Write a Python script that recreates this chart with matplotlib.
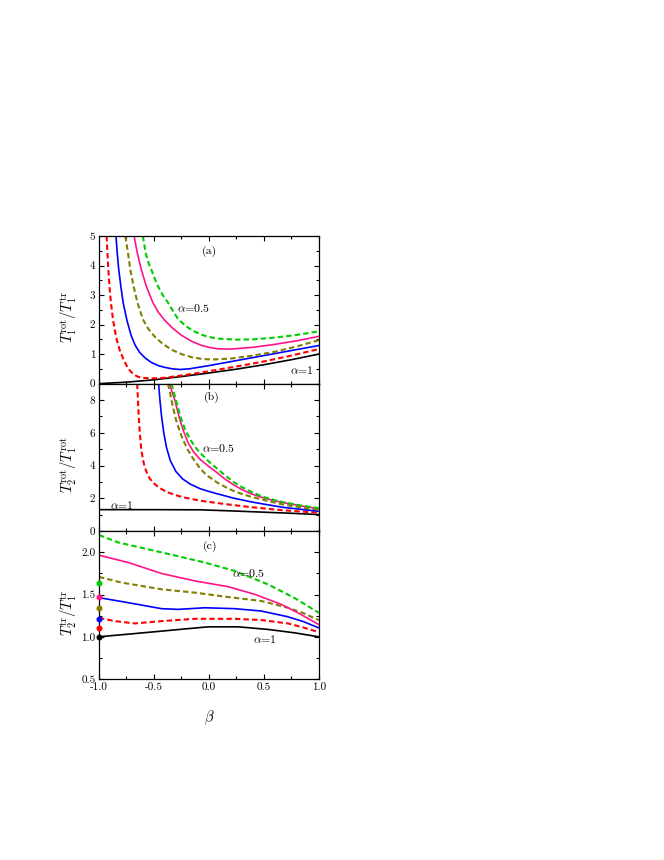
import matplotlib
matplotlib.use("Agg")
import matplotlib.pyplot as plt
from matplotlib.ticker import MultipleLocator, FuncFormatter

plt.rcParams['font.family'] = ['cmr10', 'DejaVu Serif']
plt.rcParams['mathtext.fontset'] = 'cm'
plt.rcParams['axes.unicode_minus'] = False

# ---- panel (a): T1rot / T1tr ----
a_b_black = [-1.0, -0.75, -0.5, -0.25, 0.0, 0.25, 0.5, 0.75, 1.0]
a_v_black = [0.0, 0.05, 0.13, 0.24, 0.36, 0.49, 0.64, 0.81, 1.0]

a_b_red = [-0.93, -0.925, -0.918, -0.91, -0.90, -0.888, -0.873, -0.855, -0.835, -0.81,
           -0.78, -0.75, -0.72, -0.69, -0.65, -0.6, -0.5, -0.4, -0.2, 0.0,
           0.25, 0.5, 0.75, 1.0]
a_v_red = [5.0, 4.6, 4.1, 3.6, 3.1, 2.65, 2.2, 1.8, 1.45, 1.13,
           0.85, 0.62, 0.45, 0.33, 0.24, 0.195, 0.18, 0.2, 0.3, 0.42,
           0.58, 0.75, 0.95, 1.17]

a_b_blue = [-0.845, -0.834, -0.82, -0.80, -0.78, -0.745, -0.706, -0.67, -0.63, -0.58,
            -0.524, -0.46, -0.40, -0.33, -0.26, -0.18, -0.1, 0.0, 0.25, 0.5,
            0.75, 1.0]
a_v_blue = [5.0, 4.44, 3.87, 3.28, 2.75, 2.14, 1.62, 1.3, 1.06, 0.87,
            0.72, 0.61, 0.55, 0.5, 0.48, 0.5, 0.55, 0.61, 0.78, 0.95,
            1.12, 1.29]

a_b_olive = [-0.76, -0.736, -0.715, -0.685, -0.65, -0.60, -0.55, -0.49, -0.42, -0.34,
             -0.25, -0.15, -0.05, 0.05, 0.2, 0.4, 0.6, 0.8, 1.0]
a_v_olive = [5.0, 4.44, 3.87, 3.31, 2.75, 2.18, 1.85, 1.58, 1.35, 1.15,
             1.0, 0.89, 0.83, 0.82, 0.85, 0.95, 1.08, 1.26, 1.47]

a_b_pink = [-0.68, -0.652, -0.615, -0.57, -0.51, -0.46, -0.40, -0.33, -0.25, -0.16,
            -0.07, 0.0, 0.08, 0.2, 0.4, 0.6, 0.8, 1.0]
a_v_pink = [5.0, 4.44, 3.87, 3.31, 2.75, 2.42, 2.14, 1.88, 1.64, 1.44,
            1.3, 1.23, 1.18, 1.17, 1.23, 1.33, 1.45, 1.6]

a_b_green = [-0.6, -0.576, -0.55, -0.524, -0.495, -0.464, -0.42, -0.373, -0.33, -0.282,
             -0.22, -0.15, -0.07, 0.0, 0.1, 0.25, 0.4, 0.6, 0.8, 1.0]
a_v_green = [5.0, 4.44, 4.1, 3.87, 3.58, 3.31, 3.0, 2.75, 2.48, 2.2,
             1.98, 1.8, 1.66, 1.58, 1.52, 1.49, 1.5, 1.56, 1.65, 1.77]

# ---- panel (b): T2rot / T1rot ----
b_b_black = [-1.0, -0.5, -0.08, 0.22, 0.52, 0.75, 1.0]
b_v_black = [1.32, 1.32, 1.31, 1.24, 1.16, 1.1, 1.02]

b_b_red = [-0.652, -0.645, -0.638, -0.628, -0.615, -0.6, -0.585, -0.56, -0.536, -0.5,
           -0.45, -0.385, -0.3, -0.23, -0.08, 0.07, 0.22, 0.373, 0.524, 0.676,
           1.0]
b_v_red = [9.0, 8.0, 7.0, 6.0, 5.0, 4.4, 3.95, 3.5, 3.2, 2.92,
           2.65, 2.4, 2.2, 2.07, 1.87, 1.73, 1.6, 1.48, 1.38, 1.28,
           1.13]

b_b_blue = [-0.457, -0.445, -0.43, -0.41, -0.385, -0.35, -0.30, -0.24, -0.17, -0.08,
            0.0, 0.07, 0.22, 0.373, 0.524, 0.676, 0.85, 1.0]
b_v_blue = [9.0, 8.0, 7.0, 6.0, 5.1, 4.3, 3.65, 3.2, 2.88, 2.6,
            2.43, 2.3, 2.03, 1.81, 1.63, 1.46, 1.33, 1.22]

b_b_olive = [-0.373, -0.355, -0.34, -0.32, -0.3, -0.27, -0.236, -0.19, -0.145, -0.082,
             -0.02, 0.07, 0.15, 0.221, 0.3, 0.373, 0.524, 0.676, 0.85, 1.0]
b_v_olive = [9.0, 8.5, 8.0, 7.4, 6.82, 6.2, 5.6, 4.95, 4.45, 3.85,
             3.42, 3.0, 2.7, 2.47, 2.28, 2.13, 1.87, 1.63, 1.45, 1.32]

b_b_pink = [-0.358, -0.335, -0.309, -0.285, -0.264, -0.23, -0.188, -0.14, -0.082, 0.0,
            0.07, 0.15, 0.221, 0.3, 0.373, 0.45, 0.524, 0.6, 0.676, 0.85,
            1.0]
b_v_pink = [9.0, 8.5, 8.0, 7.35, 6.82, 6.1, 5.4, 4.85, 4.4, 3.95,
            3.6, 3.17, 2.85, 2.55, 2.32, 2.14, 1.99, 1.86, 1.75, 1.54,
            1.38]

b_b_green = [-0.34, -0.32, -0.3, -0.275, -0.25, -0.21, -0.16, -0.12, -0.082, 0.0,
             0.07, 0.15, 0.221, 0.3, 0.373, 0.45, 0.524, 0.6, 0.676, 0.85,
             1.0]
b_v_green = [9.0, 8.5, 8.0, 7.4, 6.82, 6.1, 5.5, 5.1, 4.8, 4.25,
             3.85, 3.4, 3.02, 2.7, 2.45, 2.22, 2.04, 1.9, 1.78, 1.56,
             1.41]

# ---- panel (c): T2tr / T1tr ----
c_b_black = [-1.0, -0.7, -0.43, -0.2, -0.006, 0.267, 0.54, 0.78, 1.0]
c_v_black = [1.0, 1.035, 1.067, 1.095, 1.118, 1.118, 1.087, 1.047, 1.0]

c_b_red = [-1.0, -0.855, -0.673, -0.43, -0.127, 0.236, 0.479, 0.72, 0.86, 1.0]
c_v_red = [1.225, 1.186, 1.158, 1.186, 1.213, 1.213, 1.198, 1.158, 1.11, 1.055]

c_b_blue = [-1.0, -0.733, -0.43, -0.279, -0.036, 0.236, 0.479, 0.72, 0.86, 1.0]
c_v_blue = [1.464, 1.404, 1.333, 1.325, 1.344, 1.333, 1.305, 1.237, 1.18, 1.106]

c_b_olive = [-1.0, -0.794, -0.43, -0.127, 0.176, 0.479, 0.72, 0.86, 1.0]
c_v_olive = [1.71, 1.642, 1.563, 1.523, 1.471, 1.424, 1.344, 1.28, 1.198]

c_b_pink = [-1.0, -0.733, -0.43, -0.127, 0.176, 0.418, 0.66, 0.83, 1.0]
c_v_pink = [1.967, 1.88, 1.75, 1.662, 1.594, 1.503, 1.384, 1.27, 1.146]

c_b_green = [-1.0, -0.824, -0.43, -0.036, 0.236, 0.54, 0.78, 1.0]
c_v_green = [2.206, 2.118, 2.0, 1.88, 1.78, 1.62, 1.46, 1.285]

# limit values at beta = -1 (dots)
c_dot_values = [1.0, 1.10, 1.213, 1.337, 1.475, 1.634]

colors = ['black', '#ff0000', '#0000ff', '#808000', '#ff1488', '#00cc00']
styles = ['-', '--', '-', '--', '-', '--']

panel_a = [(a_b_black, a_v_black), (a_b_red, a_v_red), (a_b_blue, a_v_blue),
           (a_b_olive, a_v_olive), (a_b_pink, a_v_pink), (a_b_green, a_v_green)]
panel_b = [(b_b_black, b_v_black), (b_b_red, b_v_red), (b_b_blue, b_v_blue),
           (b_b_olive, b_v_olive), (b_b_pink, b_v_pink), (b_b_green, b_v_green)]
panel_c = [(c_b_black, c_v_black), (c_b_red, c_v_red), (c_b_blue, c_v_blue),
           (c_b_olive, c_v_olive), (c_b_pink, c_v_pink), (c_b_green, c_v_green)]

fig = plt.figure(figsize=(6.64, 8.6), dpi=100)
gs = fig.add_gridspec(3, 1, left=0.149, right=0.480, top=0.7256, bottom=0.2105, hspace=0)
axes = [fig.add_subplot(gs[i]) for i in range(3)]


def draw(ax, curves):
    for (b, v), c, ls in zip(curves, colors, styles):
        if ls == '--':
            ax.plot(b, v, color=c, lw=1.5, dashes=(2.6, 1.5))
        else:
            ax.plot(b, v, color=c, lw=1.2)


draw(axes[0], panel_a)
draw(axes[1], panel_b)
draw(axes[2], panel_c)
for val, c in zip(c_dot_values, colors):
    axes[2].plot([-1.0], [val], 'o', color=c, ms=3.3, clip_on=False, zorder=5)

axes[0].set_ylim(0, 5)
axes[1].set_ylim(0, 9)
axes[2].set_ylim(0.5, 2.25)
axes[0].yaxis.set_major_locator(MultipleLocator(1))
axes[0].yaxis.set_minor_locator(MultipleLocator(0.5))
axes[1].yaxis.set_major_locator(MultipleLocator(2))
axes[1].yaxis.set_minor_locator(MultipleLocator(1))
axes[2].yaxis.set_major_locator(MultipleLocator(0.5))
axes[2].yaxis.set_minor_locator(MultipleLocator(0.25))
axes[0].yaxis.set_major_formatter(FuncFormatter(lambda v, p: f'{v:.0f}'))
axes[1].yaxis.set_major_formatter(FuncFormatter(lambda v, p: f'{v:.0f}'))
axes[2].yaxis.set_major_formatter(FuncFormatter(lambda v, p: f'{v:.1f}'))

for ax in axes:
    ax.set_xlim(-1, 1)
    ax.xaxis.set_major_locator(MultipleLocator(0.5))
    ax.xaxis.set_minor_locator(MultipleLocator(0.25))
    ax.xaxis.set_major_formatter(FuncFormatter(lambda v, p: f'{v:.1f}'))
    ax.tick_params(which='both', direction='in', top=True, right=True, labelsize=8, width=0.8)
    ax.tick_params(which='major', length=3.5, pad=2.5)
    ax.tick_params(which='minor', length=2.5)
    for s in ax.spines.values():
        s.set_linewidth(0.9)
for ax in axes[:2]:
    ax.tick_params(labelbottom=False)

axes[0].set_ylabel(r'$T_1^{\rm rot}/T_1^{\rm tr}$', fontsize=10.5)
axes[1].set_ylabel(r'$T_2^{\rm rot}/T_1^{\rm rot}$', fontsize=10.5)
axes[2].set_ylabel(r'$T_2^{\rm tr}/T_1^{\rm tr}$', fontsize=10.5)
for ax in axes:
    ax.yaxis.set_label_coords(-0.09, 0.45)
axes[2].set_xlabel(r'$\beta$', fontsize=10.5, labelpad=12)

tkw = dict(fontsize=8.5)
axes[0].text(0.01, 4.47, '(a)', ha='center', va='center', **tkw)
axes[0].text(-0.294, 2.56, r'$\alpha$=0.5', ha='left', va='center', **tkw)
axes[0].text(0.736, 0.47, r'$\alpha$=1', ha='left', va='center', **tkw)
axes[1].text(0.024, 8.15, '(b)', ha='center', va='center', **tkw)
axes[1].text(-0.066, 5.1, r'$\alpha$=0.5', ha='left', va='center', **tkw)
axes[1].text(-0.9, 1.62, r'$\alpha$=1', ha='left', va='center', **tkw)
axes[2].text(0.01, 2.07, '(c)', ha='center', va='center', **tkw)
axes[2].text(0.209, 1.76, r'$\alpha$=0.5', ha='left', va='center', **tkw)
axes[2].text(0.4, 0.975, r'$\alpha$=1', ha='left', va='center', **tkw)

fig.savefig('out.png', dpi=100)
